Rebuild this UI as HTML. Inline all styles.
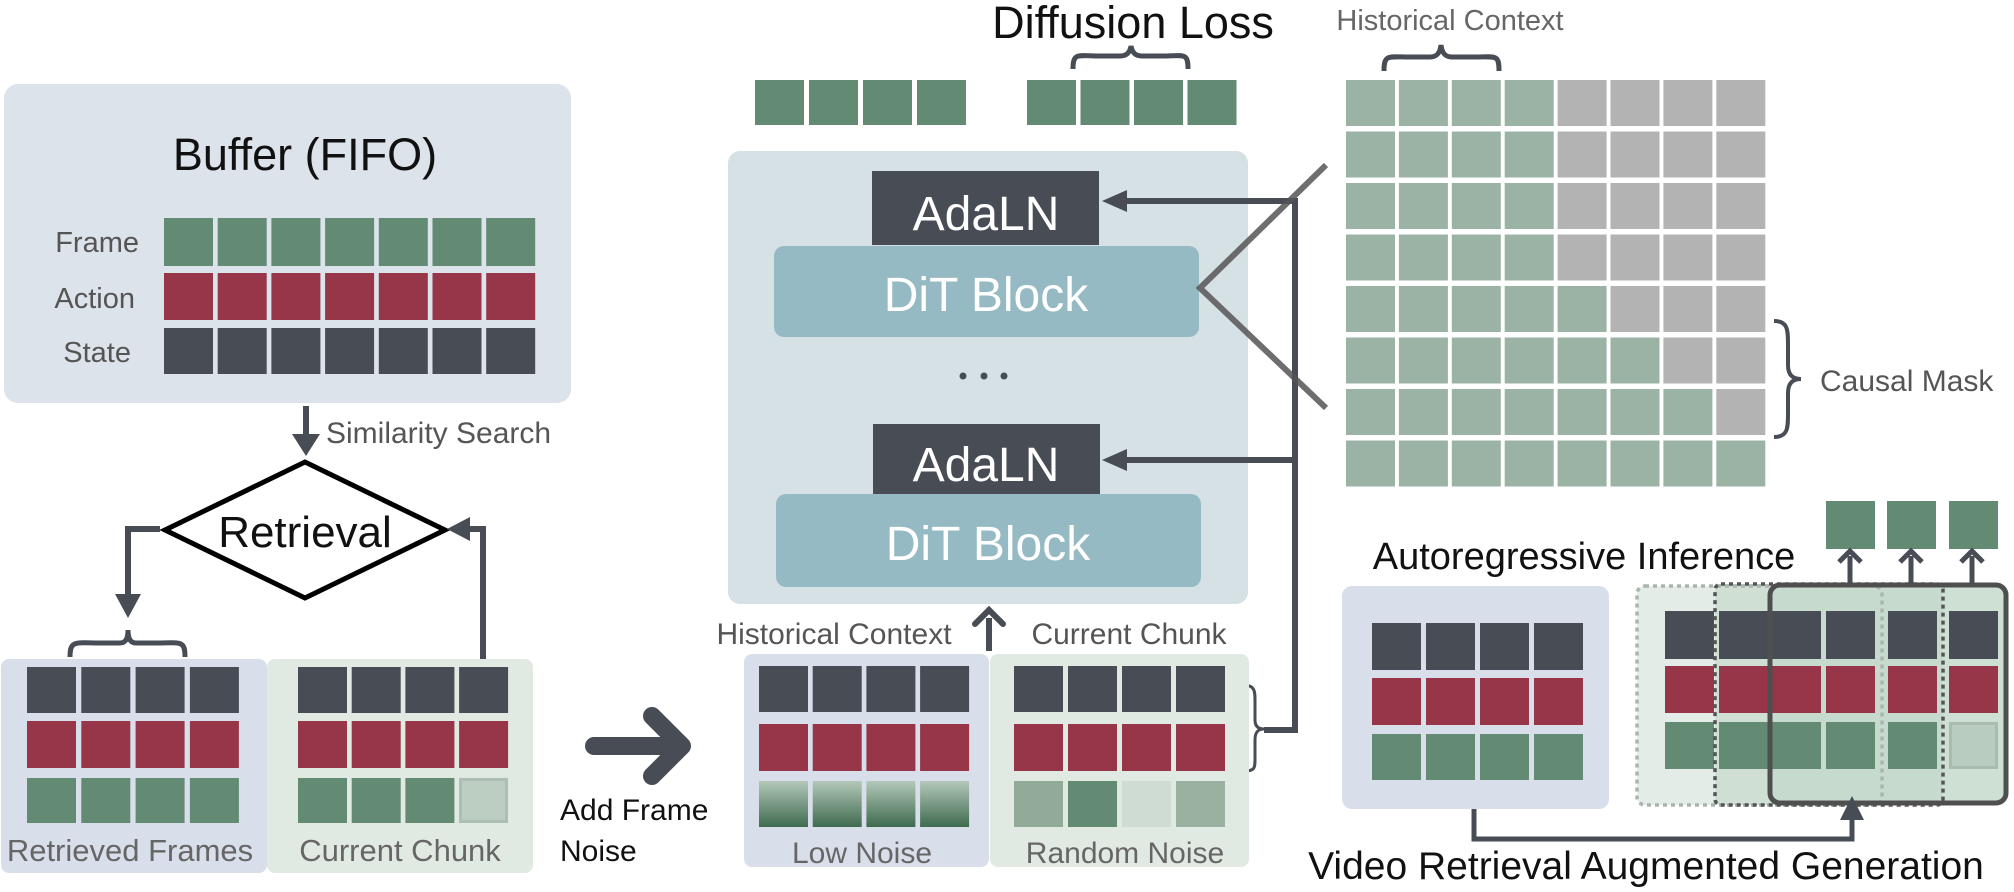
<!DOCTYPE html>
<html><head><meta charset="utf-8">
<style>
html,body{margin:0;padding:0;background:#fff;}
svg{display:block;font-family:"Liberation Sans",sans-serif;}
</style></head>
<body>
<svg id="s" width="2014" height="892" viewBox="0 0 2014 892" xmlns="http://www.w3.org/2000/svg">
<defs>
<linearGradient id="lg" x1="0" y1="0" x2="0" y2="1">
<stop offset="0" stop-color="#b3c8b9"/><stop offset="1" stop-color="#3f6b4f"/>
</linearGradient>
</defs>
<rect x="4" y="84" width="567" height="319" rx="14" fill="#dce3ea"/>
<text x="305" y="170" font-size="45" text-anchor="middle" fill="#111">Buffer (FIFO)</text>
<text x="139" y="252" font-size="29" text-anchor="end" fill="#555">Frame</text>
<text x="135" y="308" font-size="29" text-anchor="end" fill="#555">Action</text>
<text x="131" y="362" font-size="29" text-anchor="end" fill="#555">State</text>
<g id="cells"></g>
<line x1="306" y1="406" x2="306" y2="438" stroke="#474c55" stroke-width="6"/>
<polygon points="292,434 320,434 306,456" fill="#474c55"/>
<text x="326" y="443" font-size="30" fill="#555">Similarity Search</text>
<polygon points="165,530 305,462 445,530 305,598" fill="#fff" stroke="#000" stroke-width="5"/>
<text x="305" y="547" font-size="44" text-anchor="middle" fill="#111">Retrieval</text>
<polyline points="160,529 128,529 128,598" fill="none" stroke="#474c55" stroke-width="6"/>
<polygon points="115,594 141,594 128,618" fill="#474c55"/>
<polyline points="483,665 483,529 466,529" fill="none" stroke="#474c55" stroke-width="6"/>
<polygon points="447,529 470,517 470,541" fill="#474c55"/>
<path d="M70,657 C70,640 75,643 100,643 L120,643 C126,643 128,638 128,630 C128,638 130,643 136,643 L156,643 C181,643 185,640 185,657" fill="none" stroke="#474c55" stroke-width="5"/>
<rect x="1" y="659" width="266" height="214" rx="8" fill="#d9dfea"/>
<rect x="267" y="659" width="266" height="214" rx="8" fill="#e1e9e3"/>
<g id="cells2"></g>
<text x="130" y="861" font-size="31" text-anchor="middle" fill="#666">Retrieved Frames</text>
<text x="400" y="861" font-size="31" text-anchor="middle" fill="#666">Current Chunk</text>
<g stroke="#474c55" stroke-width="18" stroke-linecap="round" stroke-linejoin="round" fill="none">
<line x1="594" y1="746" x2="680" y2="746"/><polyline points="652,716 682,746 652,776"/>
</g>
<text x="560" y="820" font-size="30" fill="#111">Add Frame</text>
<text x="560" y="861" font-size="30" fill="#111">Noise</text>
<text x="1133" y="38" font-size="45" text-anchor="middle" fill="#111">Diffusion Loss</text>
<path d="M1073,69 C1073,52 1078,56 1100,56 L1120,56 C1127,56 1130,52 1131,46 C1132,52 1135,56 1142,56 L1162,56 C1184,56 1188,52 1188,69" fill="none" stroke="#474c55" stroke-width="5"/>
<rect x="728" y="151" width="520" height="453" rx="12" fill="#d6e1e6"/>
<rect x="774" y="246" width="425" height="91" rx="10" fill="#96bac3"/>
<rect x="872" y="171" width="227" height="74" fill="#474c55"/>
<text x="986" y="230" font-size="48" text-anchor="middle" fill="#fff">AdaLN</text>
<text x="986" y="311" font-size="48" text-anchor="middle" fill="#fff">DiT Block</text>
<circle cx="963" cy="376" r="3.5" fill="#474c55"/><circle cx="984" cy="376" r="3.5" fill="#474c55"/><circle cx="1004" cy="376" r="3.5" fill="#474c55"/>
<rect x="776" y="494" width="425" height="93" rx="10" fill="#96bac3"/>
<rect x="873" y="424" width="227" height="70" fill="#474c55"/>
<text x="986" y="481" font-size="48" text-anchor="middle" fill="#fff">AdaLN</text>
<text x="988" y="560" font-size="48" text-anchor="middle" fill="#fff">DiT Block</text>
<g stroke="#474c55" stroke-width="6" fill="none">
<polyline points="1124,201 1295,201 1295,730 1264,730"/>
<line x1="1124" y1="460" x2="1295" y2="460"/>
</g>
<polygon points="1102,201 1127,190 1127,212" fill="#474c55"/>
<polygon points="1102,460 1127,449 1127,471" fill="#474c55"/>
<path d="M1243,685 C1256,685 1255,692 1255,705 L1255,720 C1255,726 1258,729 1264,729 C1258,729 1255,732 1255,740 L1255,755 C1255,768 1256,771 1243,771" fill="none" stroke="#474c55" stroke-width="3"/>
<polyline points="1326,165 1200,288 1326,408" fill="none" stroke="#555" stroke-width="6" opacity="0.85"/>
<line x1="989" y1="651" x2="989" y2="618" stroke="#474c55" stroke-width="6"/>
<polyline points="975,624 989,610 1003,624" fill="none" stroke="#474c55" stroke-width="6" stroke-linecap="round"/>
<text x="834" y="644" font-size="30" text-anchor="middle" fill="#555">Historical Context</text>
<text x="1129" y="644" font-size="30" text-anchor="middle" fill="#555">Current Chunk</text>
<rect x="744" y="654" width="245" height="213" rx="8" fill="#d9dfea"/>
<rect x="990" y="654" width="259" height="213" rx="8" fill="#e1e9e3"/>
<g id="cells3"></g>
<text x="862" y="863" font-size="30" text-anchor="middle" fill="#666">Low Noise</text>
<text x="1125" y="863" font-size="30" text-anchor="middle" fill="#666">Random Noise</text>
<text x="1450" y="30" font-size="29" text-anchor="middle" fill="#666">Historical Context</text>
<path d="M1384,71 C1384,54 1388,57 1410,57 L1430,57 C1437,57 1440,53 1441,45 C1442,53 1445,57 1452,57 L1474,57 C1496,57 1499,54 1499,71" fill="none" stroke="#474c55" stroke-width="5"/>
<g id="grid"></g>
<path d="M1774,321 C1788,321 1788,330 1788,345 L1788,365 C1788,374 1792,379 1801,379 C1792,379 1788,384 1788,393 L1788,413 C1788,428 1788,437 1774,437" fill="none" stroke="#474c55" stroke-width="4"/>
<text x="1820" y="391" font-size="30" fill="#555">Causal Mask</text>
<text x="1584" y="569" font-size="38" text-anchor="middle" fill="#111">Autoregressive Inference</text>
<rect x="1342" y="586" width="267" height="223" rx="10" fill="#d9dfea"/>
<rect x="1637" y="586" width="245" height="219" rx="8" fill="#e4ece7"/>
<rect x="1715" y="584" width="228" height="221" rx="6" fill="#cfdfd4"/>
<rect x="1770" y="585" width="236" height="218" rx="10" fill="#c6d9cc" opacity="0.85"/>
<g id="cells4"></g>
<rect x="1637" y="586" width="245" height="219" rx="8" fill="none" stroke="#aab5ae" stroke-width="3.5" stroke-dasharray="4,4"/>
<rect x="1715" y="584" width="228" height="221" rx="6" fill="none" stroke="#555" stroke-width="3.5" stroke-dasharray="4,4"/>
<rect x="1770" y="585" width="236" height="218" rx="10" fill="none" stroke="#4f4f4f" stroke-width="5"/>
<g stroke="#474c55" stroke-width="5" fill="none">
<line x1="1850" y1="584" x2="1850" y2="556"/><polyline points="1839,562 1850,551 1861,562"/>
<line x1="1911" y1="584" x2="1911" y2="556"/><polyline points="1900,562 1911,551 1922,562"/>
<line x1="1972" y1="584" x2="1972" y2="556"/><polyline points="1961,562 1972,551 1983,562"/>
<polyline points="1474,809 1474,839 1852,839 1852,815"/>
</g>
<polygon points="1840,820 1864,820 1852,796" fill="#474c55"/>
<text x="1646" y="879" font-size="39" text-anchor="middle" fill="#111">Video Retrieval Augmented Generation</text>
</svg>
<script>
var NS="http://www.w3.org/2000/svg";
var D="#474c55",R="#963648",G="#638a72";
function r(g,x,y,w,h,f,st){var e=document.createElementNS(NS,"rect");e.setAttribute("x",x);e.setAttribute("y",y);e.setAttribute("width",w);e.setAttribute("height",h);e.setAttribute("fill",f);if(st){e.setAttribute("stroke",st);e.setAttribute("stroke-width",3);}document.getElementById(g).appendChild(e);}
function row(g,x0,p,n,y,h,c){for(var i=0;i<n;i++)r(g,x0+i*p,y,49,h,typeof c==="string"?c:c[i]);}
row("cells",164,53.7,7,218,48,G);row("cells",164,53.7,7,273,47,R);row("cells",164,53.7,7,328,46,D);
row("cells2",27,54.3,4,667,46,D);row("cells2",27,54.3,4,721,47,R);row("cells2",27,54.3,4,778,45,G);
row("cells2",298,53.7,4,667,46,D);row("cells2",298,53.7,4,721,47,R);row("cells2",298,53.7,3,778,45,G);
r("cells2",460.5,779.5,46,42,"#bccdc1","#adbfb2");
row("cells",755,54,4,80,45,G);row("cells",1027,53.5,4,80,45,G);
row("cells3",759,53.7,4,666,46,D);row("cells3",759,53.7,4,724,47,R);row("cells3",759,53.7,4,781,46,"url(#lg)");
row("cells3",1014,54,4,666,46,D);row("cells3",1014,54,4,724,47,R);row("cells3",1014,54,4,781,46,["#91ab98",G,"#cfdcd3","#9ab0a0"]);
for(var i=0;i<8;i++){var gn=i<4?4:i+1;for(var j=0;j<8;j++)r("grid",1346+j*52.9,80+i*51.5,49,46,j<gn?"#9bb3a5":"#b3b3b3");}
[1826,1887,1949].forEach(function(x){r("cells4",x,501,49,48,G);});
row("cells4",1372,54,4,623,47,D);row("cells4",1372,54,4,678,47,R);row("cells4",1372,54,4,734,46,G);
var cx=[1665,1719,1772,1826,1888,1949];
cx.forEach(function(x,k){r("cells4",x,611,49,48,D);r("cells4",x,666,49,47,R);if(k<5)r("cells4",x,722,49,47,G);});
r("cells4",1950.5,723.5,46,44,"#b8ccbf","#a9bcaf");
</script>
</body></html>
